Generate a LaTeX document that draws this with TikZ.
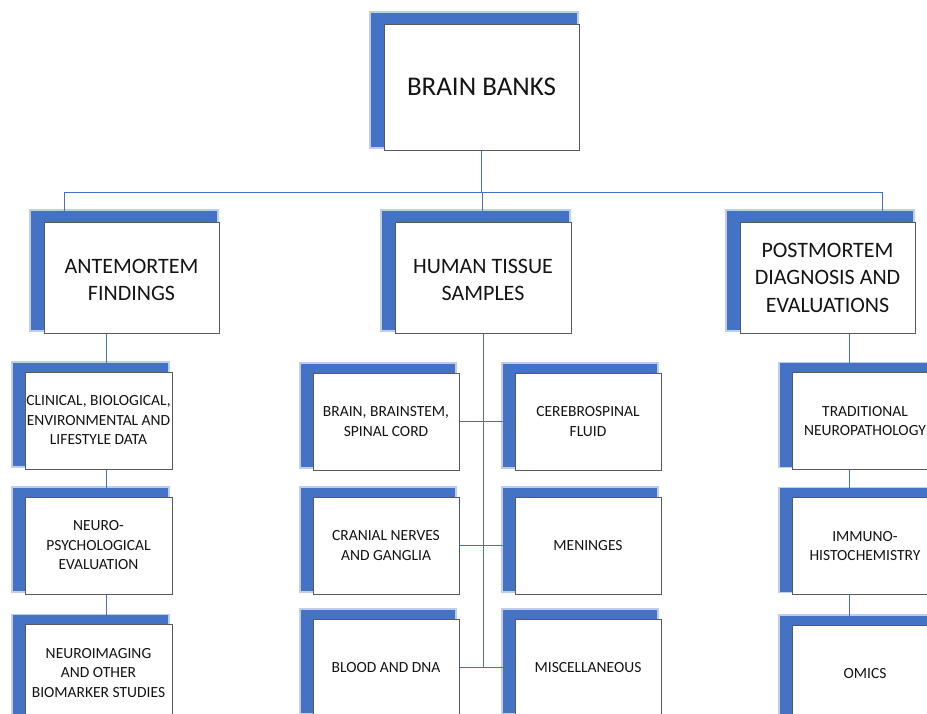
\documentclass[tikz,border=0pt]{standalone}
\usepackage{fontspec}
\setmainfont{Carlito}
\usetikzlibrary{backgrounds}
\pgfdeclarelayer{shad}
\pgfsetlayers{background,shad,main}
\definecolor{sblue}{HTML}{4472C4}
\definecolor{lblue}{HTML}{4472C4}
\begin{document}
\begin{tikzpicture}[x=1pt,y=-1pt,
 box/.style={draw=black!65, line width=0.7pt, fill=white, align=center, inner sep=0pt, text=black!92},
 big/.style={box, font=\fontsize{27}{32}\selectfont},
 mid/.style={box, font=\fontsize{22}{27.5}\selectfont, minimum height=111pt, minimum width=175pt},
 sml/.style={box, font=\fontsize{15.5}{19.5}\selectfont, minimum width=147pt, minimum height=97pt},
 conn/.style={draw=lblue, line width=0.8pt},
 shsoft/.style={fill=sblue, opacity=0.35},
 shsolid/.style={fill=sblue}]
\useasboundingbox (0,0) rectangle (927,714);

\node[big, minimum width=195pt, minimum height=126pt] (bb) at (481.5,87) {BRAIN BANKS};
\node[mid] (ante) at (131.5,277.5) {\raisebox{-4pt}[\height][\depth]{\begin{tabular}{@{}c@{}}ANTEMORTEM\\FINDINGS\end{tabular}}};
\node[mid, minimum width=176pt] (hts) at (483,277.5) {\raisebox{-4pt}[\height][\depth]{\begin{tabular}{@{}c@{}}HUMAN TISSUE\\SAMPLES\end{tabular}}};
\node[mid] (post) at (827.5,277.5) {POSTMORTEM\\DIAGNOSIS AND\\EVALUATIONS};

\node[sml] (clin) at (98.5,420.5) {CLINICAL, BIOLOGICAL,\\ENVIRONMENTAL AND\\LIFESTYLE DATA};
\node[sml] (npsy) at (98.5,545.5) {NEURO-\\PSYCHOLOGICAL\\EVALUATION};
\node[sml] (nimg) at (98.5,673) {NEUROIMAGING\\AND OTHER\\BIOMARKER STUDIES};

\node[sml, minimum width=146pt] (bbs) at (386,421.5) {BRAIN, BRAINSTEM,\\SPINAL CORD};
\node[sml, minimum width=146pt] (csf) at (588,421.5) {CEREBROSPINAL\\FLUID};
\node[sml, minimum width=146pt] (cran) at (386,545.5) {CRANIAL NERVES\\AND GANGLIA};
\node[sml, minimum width=146pt] (men) at (588,545.5) {MENINGES};
\node[sml, minimum width=146pt] (blood) at (386,667.5) {BLOOD AND DNA};
\node[sml, minimum width=146pt] (misc) at (588,667.5) {MISCELLANEOUS};

\node[sml, minimum width=146pt] (trad) at (865,421) {TRADITIONAL\\NEUROPATHOLOGY};
\node[sml, minimum width=146pt] (immu) at (865,546) {IMMUNO-\\HISTOCHEMISTRY};
\node[sml, minimum width=146pt] (omics) at (865,673.5) {OMICS};

\begin{pgfonlayer}{shad}
\foreach \n in {bb,ante,hts,post} {
  \fill[shsoft] ([shift={(-14.5,-12.5)}]\n.north west) rectangle ([shift={(-0.5,-1.5)}]\n.south east);
  \fill[shsolid] ([shift={(-13,-11)}]\n.north west) rectangle ([shift={(-2,-3)}]\n.south east);
}
\foreach \n in {clin,npsy,nimg,bbs,csf,cran,men,blood,misc,trad,immu,omics} {
  \fill[shsoft] ([shift={(-13.5,-10.5)}]\n.north west) rectangle ([shift={(-2.5,-1.5)}]\n.south east);
  \fill[shsolid] ([shift={(-12,-9)}]\n.north west) rectangle ([shift={(-4,-3)}]\n.south east);
}
\end{pgfonlayer}

\begin{pgfonlayer}{background}
\fill[white] (0,0) rectangle (927,714);
\coordinate (hub) at (481.5,192);
\coordinate (dA) at (64,192);
\coordinate (dH) at (482,192);
\coordinate (dP) at (882,192);
\coordinate (lx) at (106,0);
\coordinate (rx) at (849,0);
\draw[conn] (bb.south) -- (hub);
\draw[conn] (dA) -- (dP);
\draw[conn] (dA) -- (dA |- ante.north);
\draw[conn] (dH) -- (dH |- hts.north);
\draw[conn] (dP) -- (dP |- post.north);
\draw[conn] (ante.south -| lx) -- (nimg.north -| lx);
\draw[conn] (post.south -| rx) -- (omics.north -| rx);
\draw[conn] (hts.south) -- (hts.south |- blood.east);
\draw[conn] (bbs.east) -- (csf.west);
\draw[conn] (cran.east) -- (men.west);
\draw[conn] (blood.east) -- (misc.west);
\end{pgfonlayer}
\end{tikzpicture}
\end{document}
